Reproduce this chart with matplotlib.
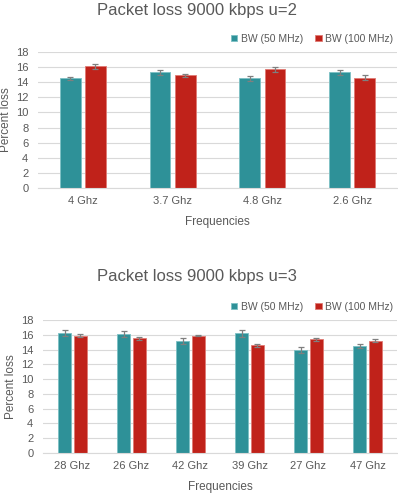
import numpy as np
import matplotlib.pyplot as plt

plt.rcParams['font.family'] = ['Liberation Sans', 'DejaVu Sans']

# data for u=2
freqs_u2 = ["4 Ghz", "3.7 Ghz", "4.8 Ghz", "2.6 Ghz"]
bw50_u2 = [14.5, 15.3, 14.5, 15.3]
bw50_u2_err = [0.25, 0.3, 0.3, 0.3]
bw100_u2 = [16.1, 14.9, 15.7, 14.6]
bw100_u2_err = [0.3, 0.25, 0.3, 0.3]

# data for u=3
freqs_u3 = ["28 Ghz", "26 Ghz", "42 Ghz", "39 Ghz", "27 Ghz", "47 Ghz"]
bw50_u3 = [16.2, 16.1, 15.2, 16.2, 14.0, 14.5]
bw50_u3_err = [0.4, 0.4, 0.4, 0.45, 0.4, 0.3]
bw100_u3 = [15.9, 15.5, 15.9, 14.6, 15.4, 15.2]
bw100_u3_err = [0.15, 0.2, 0.1, 0.2, 0.2, 0.2]

series_labels = ["BW (50 MHz)", "BW (100 MHz)"]
teal = "#2E9198"
red = "#C0221A"
text_col = "#595959"

W, H = 398, 493
fig = plt.figure(figsize=(W / 100, H / 100), dpi=100)


def draw(rect, cats, v1, e1, v2, e2, title, title_y, width, gap):
    l, t, r, b = rect
    ax = fig.add_axes([l / W, 1 - b / H, (r - l) / W, (b - t) / H])
    x = np.arange(len(cats))
    off = (width + gap) / 2
    err_kw = dict(ecolor="#7F7F7F", elinewidth=0.9, capsize=2.5, capthick=0.9)
    ax.bar(x - off, v1, width, yerr=e1, color=teal, edgecolor="#7CC0C4",
           linewidth=0.6, label=series_labels[0], error_kw=err_kw, zorder=2)
    ax.bar(x + off, v2, width, yerr=e2, color=red, edgecolor="#E07A74",
           linewidth=0.6, label=series_labels[1], error_kw=err_kw, zorder=2)
    ax.set_xlim(-0.5, len(cats) - 0.5)
    ax.set_ylim(0, 18)
    ax.set_yticks(range(0, 19, 2))
    ax.set_xticks(x)
    ax.set_xticklabels(cats)
    ax.grid(axis="y", color="#D9D9D9", linewidth=0.8, zorder=0)
    for s in ["top", "right", "left"]:
        ax.spines[s].set_visible(False)
    ax.spines["bottom"].set_color("#D9D9D9")
    ax.tick_params(axis="x", length=0, labelsize=8, colors=text_col, pad=6)
    ax.tick_params(axis="y", length=0, labelsize=8, colors=text_col, pad=7)
    ax.set_xlabel("Frequencies", fontsize=8.5, color=text_col, labelpad=7)
    ax.set_ylabel("Percent loss", fontsize=8.5, color=text_col, labelpad=3)
    ax.legend(loc="lower right", bbox_to_anchor=(1.0, 1.03), ncol=2,
              frameon=False, fontsize=7.5, labelcolor=text_col,
              handlelength=0.6, handleheight=0.6, handletextpad=0.3,
              columnspacing=1.2, borderaxespad=0)
    fig.text(0.495, 1 - title_y / H, title, ha="center", va="center",
             fontsize=12, color=text_col)
    return ax


draw((38, 52, 397, 188), freqs_u2, bw50_u2, bw50_u2_err, bw100_u2,
     bw100_u2_err, "Packet loss 9000 kbps u=2", 10, 0.23, 0.05)
draw((43, 320, 397, 453), freqs_u3, bw50_u3, bw50_u3_err, bw100_u3,
     bw100_u3_err, "Packet loss 9000 kbps u=3", 277, 0.22, 0.05)

fig.savefig("out.png", dpi=100, facecolor="white")
